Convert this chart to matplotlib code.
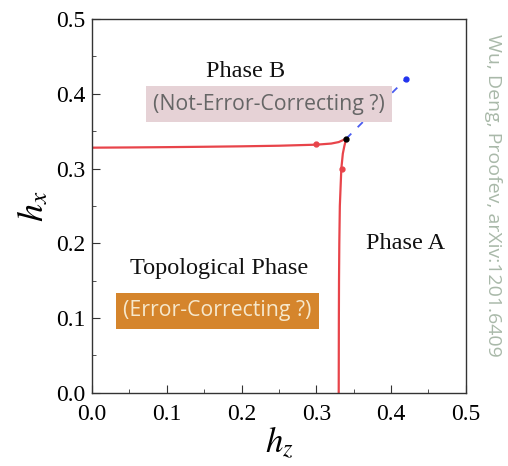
import numpy as np
import matplotlib
matplotlib.use("Agg")
import matplotlib.pyplot as plt
from matplotlib.ticker import MultipleLocator

# horizontal branch of the phase boundary (h_z, h_x)
upper_hz = [0.0, 0.05, 0.10, 0.15, 0.20, 0.25, 0.30, 0.32, 0.33, 0.34]
upper_hx = [0.328, 0.3283, 0.3287, 0.3292, 0.3298, 0.3306, 0.332, 0.3335, 0.3355, 0.34]
# vertical branch
lower_hx = [0.0, 0.05, 0.10, 0.15, 0.20, 0.25, 0.30, 0.32, 0.33, 0.34]
lower_hz = [0.330, 0.3301, 0.3302, 0.3304, 0.3308, 0.3315, 0.3335, 0.3355, 0.3375, 0.34]

# marked points
red_pts_hz = [0.30, 0.334]
red_pts_hx = [0.3325, 0.30]
crit_hz, crit_hx = 0.34, 0.34
end_hz, end_hx = 0.42, 0.42

plt.rcParams['font.family'] = ['Liberation Serif', 'DejaVu Serif']
plt.rcParams['mathtext.fontset'] = 'stix'

fig = plt.figure(figsize=(5.08, 4.66), dpi=100)
ax = fig.add_axes([0.181, 0.157, 0.736, 0.802])

ax.plot(upper_hz, upper_hx, color='#e8444a', lw=1.6)
ax.plot(lower_hz, lower_hx, color='#e8444a', lw=1.6)
ax.plot([crit_hz, end_hz], [crit_hx, end_hx], color='#4a5cf0', lw=1.3, ls=(0, (4, 5)))
ax.plot(red_pts_hz, red_pts_hx, 'o', color='#e8444a', ms=3.5)
ax.plot([crit_hz], [crit_hx], 'o', color='black', ms=3.5)
ax.plot([end_hz], [end_hx], 'o', color='#2233ee', ms=3.5)

ax.set_xlim(0, 0.5)
ax.set_ylim(0, 0.5)
ax.xaxis.set_major_locator(MultipleLocator(0.1))
ax.yaxis.set_major_locator(MultipleLocator(0.1))
ax.xaxis.set_minor_locator(MultipleLocator(0.05))
ax.yaxis.set_minor_locator(MultipleLocator(0.05))
ax.xaxis.set_major_formatter(plt.FormatStrFormatter('%.1f'))
ax.yaxis.set_major_formatter(plt.FormatStrFormatter('%.1f'))
ax.tick_params(which='both', direction='in', labelsize=17, color='#333333')
ax.tick_params(which='major', length=6)
ax.tick_params(which='minor', length=3)
ax.tick_params(axis='x', which='major', pad=8)
ax.tick_params(axis='y', which='major', pad=5)
for s in ax.spines.values():
    s.set_color('#333333')
    s.set_linewidth(1.0)

ax.set_xlabel(r'$h_z$', fontsize=25, labelpad=0)
ax.set_ylabel(r'$h_x$', fontsize=26, labelpad=3)

ax.text(0.206, 0.430, 'Phase B', fontsize=17.5, ha='center', va='center', color='#111111')
ax.text(0.420, 0.200, 'Phase A', fontsize=17.5, ha='center', va='center', color='#111111')
ax.text(0.170, 0.167, 'Topological Phase', fontsize=17.5, ha='center', va='center', color='#111111')

ax.text(0.237, 0.386, '(Not-Error-Correcting ?)', fontsize=15.3, family=['Open Sans', 'DejaVu Sans'],
        ha='center', va='center', color='#666666',
        bbox=dict(boxstyle='square,pad=0.35', fc='#e6d2d6', ec='none'))
ax.text(0.168, 0.110, '(Error-Correcting ?)', fontsize=15.3, family=['Open Sans', 'DejaVu Sans'],
        ha='center', va='center', color='#f6e8cc',
        bbox=dict(boxstyle='square,pad=0.35', fc='#d5852c', ec='none'))

fig.text(0.970, 0.58, 'Wu, Deng, Proofev, arXiv:1201.6409', rotation=-90, fontsize=14,
         family=['Open Sans', 'DejaVu Sans'], color='#a9b9a9', ha='center', va='center')

fig.savefig('out.png', dpi=100)
